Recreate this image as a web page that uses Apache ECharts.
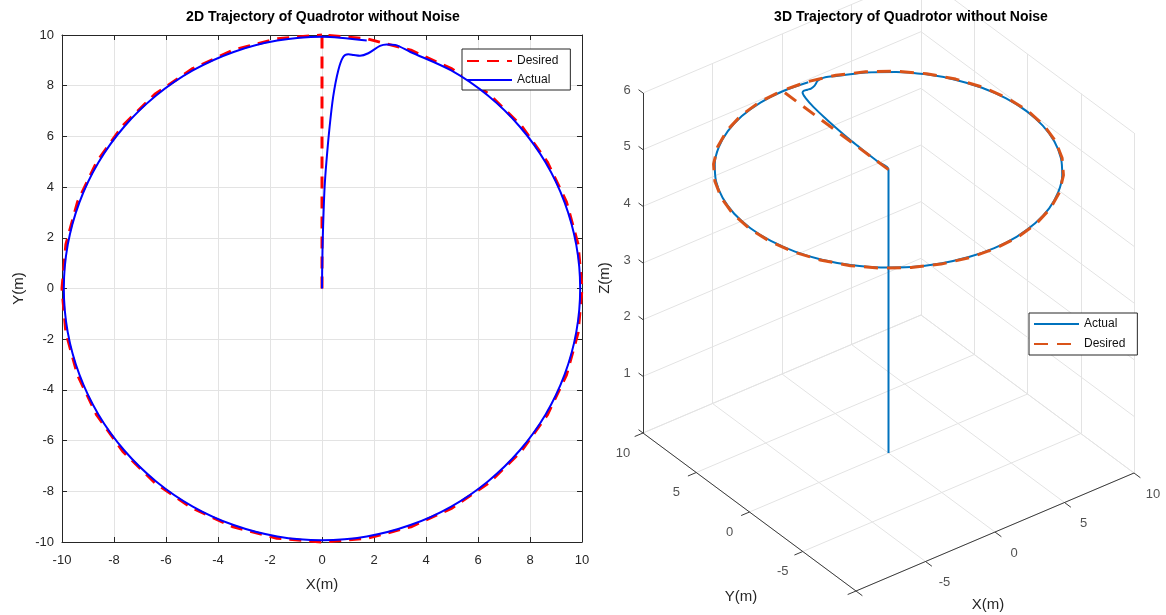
<!DOCTYPE html>
<html>
<head>
<meta charset="utf-8">
<title>Quadrotor trajectory without noise</title>
<script src="https://cdn.jsdelivr.net/npm/echarts@6/dist/echarts.min.js"></script>
<style>
  html, body { margin: 0; padding: 0; background: #fff; }
  #chart { width: 1166px; height: 615px; }
</style>
</head>
<body>
<div id="chart"></div>
<script>
// desired path (m): straight leg from the origin to (0, 10), then one clockwise lap of the r = 10 circle
const desiredX = [0, 0, 1.74, 3.42, 5.00, 6.43, 7.66, 8.66, 9.40, 9.85, 10.00, 9.85, 9.40, 8.66, 7.66, 6.43, 5.00, 3.42, 1.74, 0.00,
  -1.74, -3.42, -5.00, -6.43, -7.66, -8.66, -9.40, -9.85, -10.00, -9.85, -9.40, -8.66, -7.66, -6.43, -5.00, -3.42, -1.74, 0.00];
const desiredY = [0, 10, 9.85, 9.40, 8.66, 7.66, 6.43, 5.00, 3.42, 1.74, 0.00, -1.74, -3.42, -5.00, -6.43, -7.66, -8.66, -9.40, -9.85, -10.00,
  -9.85, -9.40, -8.66, -7.66, -6.43, -5.00, -3.42, -1.74, 0.00, 1.74, 3.42, 5.00, 6.43, 7.66, 8.66, 9.40, 9.85, 10.00];

// actual path (m): lags the leg, overshoots near (1, 9.2), joins the circle around x = 3.4
const actualX = [0, 0.01, 0.03, 0.06, 0.10, 0.17, 0.28, 0.43, 0.63, 0.82, 1.01, 1.22, 1.46, 1.78, 2.23, 2.49, 2.81, 3.40,
  4.97, 6.38, 7.61, 8.60, 9.33, 9.78, 9.93, 9.78, 9.33, 8.60, 7.61, 6.38, 4.97, 3.40, 1.72, 0.00,
  -1.72, -3.40, -4.97, -6.38, -7.61, -8.60, -9.33, -9.78, -9.93, -9.78, -9.33, -8.60, -7.61, -6.38, -4.97, -3.40, -1.72, 0.00, 1.72];
const actualY = [0, 1.00, 2.00, 3.00, 4.00, 5.00, 6.25, 7.57, 8.62, 9.14, 9.24, 9.21, 9.18, 9.28, 9.57, 9.63, 9.61, 9.33,
  8.60, 7.61, 6.38, 4.97, 3.40, 1.72, 0.00, -1.72, -3.40, -4.97, -6.38, -7.61, -8.60, -9.33, -9.78, -9.93,
  -9.78, -9.33, -8.60, -7.61, -6.38, -4.97, -3.40, -1.72, 0.00, 1.72, 3.40, 4.97, 6.38, 7.61, 8.60, 9.33, 9.78, 9.93, 9.78];

// altitude (m): the drone climbs at the origin, then flies the XY path at cruiseZ
const groundZ = 0;
const cruiseZ = 5;

// 3D axes
const ticks3dXY = [-10, -5, 0, 5, 10];
const ticks3dZ = [0, 1, 2, 3, 4, 5, 6];
const labels3dX = [-5, 0, 5, 10];
const labels3dY = [-5, 0, 5, 10];
const labels3dZ = [1, 2, 3, 4, 5, 6];

const axisColor = "#262626";
const gridColor = "#e3e3e3";
const font = "'Liberation Sans', Arial, Helvetica, sans-serif";

// MATLAB view(3) box, as pixel vectors inside the right panel (panel starts at x = 600)
const lim = { x: [-10, 10], y: [-10, 10], z: [0, 6] };
const view = { o: [256, 591], ex: [278, -118], ey: [-213, -158], ez: [0, -340] };

function project(x, y, z) {
  const a = (x - lim.x[0]) / (lim.x[1] - lim.x[0]);
  const b = (y - lim.y[0]) / (lim.y[1] - lim.y[0]);
  const c = (z - lim.z[0]) / (lim.z[1] - lim.z[0]);
  return [
    view.o[0] + a * view.ex[0] + b * view.ey[0] + c * view.ez[0],
    view.o[1] + a * view.ex[1] + b * view.ey[1] + c * view.ez[1],
  ];
}

function seg(p, q) {
  return { coords: [project(p[0], p[1], p[2]), project(q[0], q[1], q[2])] };
}

const [x0, x1] = lim.x;
const [y0, y1] = lim.y;
const [z0, z1] = lim.z;

// grid on the floor and on the two back walls
const gridSegs = [];
ticks3dXY.forEach((t) => {
  gridSegs.push(seg([t, y0, z0], [t, y1, z0]));
  gridSegs.push(seg([x0, t, z0], [x1, t, z0]));
  gridSegs.push(seg([t, y1, z0], [t, y1, z1]));
  gridSegs.push(seg([x1, t, z0], [x1, t, z1]));
});
ticks3dZ.forEach((t) => {
  gridSegs.push(seg([x0, y1, t], [x1, y1, t]));
  gridSegs.push(seg([x1, y0, t], [x1, y1, t]));
});

const tickLen = 0.6;
const axisSegs = [
  seg([x0, y0, z0], [x1, y0, z0]),
  seg([x0, y0, z0], [x0, y1, z0]),
  seg([x0, y1, z0], [x0, y1, z1]),
];
ticks3dXY.forEach((t) => {
  axisSegs.push(seg([t, y0, z0], [t, y0 - tickLen, z0]));
  axisSegs.push(seg([x0, t, z0], [x0 - tickLen, t, z0]));
});
ticks3dZ.forEach((t) => axisSegs.push(seg([x0, y1, t], [x0, y1 + tickLen * 0.7, t])));

function labelAt(p, dx, dy, text) {
  return [p[0] + dx, p[1] + dy, text];
}
const tickLabels3d = []
  .concat(labels3dX.map((t) => labelAt(project(t, y0, z0), 19, 21, t)))
  .concat(labels3dY.map((t) => labelAt(project(x0, t, z0), -20, 20, t)))
  .concat(labels3dZ.map((t) => labelAt(project(x0, y1, t), -16, -3, t)));

const desired3d = desiredX.map((x, i) => project(x, desiredY[i], cruiseZ));
const actual3d = [project(actualX[0], actualY[0], groundZ)].concat(
  actualX.map((x, i) => project(x, actualY[i], cruiseZ))
);

const chart = echarts.init(document.getElementById("chart"));

const axis2d = {
  type: "value",
  min: -10,
  max: 10,
  interval: 2,
  axisLine: { onZero: false, lineStyle: { color: axisColor, width: 1 } },
  axisTick: { show: true, inside: true, length: 5, lineStyle: { color: axisColor } },
  splitLine: { show: true, lineStyle: { color: gridColor, width: 1 } },
  axisLabel: { color: axisColor, fontSize: 13, fontFamily: font },
  nameLocation: "middle",
  nameTextStyle: { color: axisColor, fontSize: 15, fontFamily: font },
};
const mirror2d = {
  ...axis2d,
  axisLabel: { show: false },
  splitLine: { show: false },
  name: "",
};

// legend shows the line only, no marker
const legendBase = {
  orient: "vertical",
  selectedMode: false,
  backgroundColor: "#fff",
  borderColor: axisColor,
  borderWidth: 1,
  borderRadius: 0,
  itemWidth: 45,
  itemHeight: 14,
  itemStyle: { opacity: 0 },
  textStyle: { color: "#111", fontSize: 12, fontFamily: font },
};

chart.setOption({
  animation: false,
  textStyle: { fontFamily: font },
  title: [
    {
      text: "2D Trajectory of Quadrotor without Noise",
      left: 323,
      top: 10,
      padding: 0,
      textAlign: "center",
      textStyle: { fontSize: 14, fontWeight: "bold", color: "#000", fontFamily: font },
    },
    {
      text: "3D Trajectory of Quadrotor without Noise",
      left: 911,
      top: 10,
      padding: 0,
      textAlign: "center",
      textStyle: { fontSize: 14, fontWeight: "bold", color: "#000", fontFamily: font },
    },
  ],
  legend: [
    {
      ...legendBase,
      data: ["Desired", "Actual"],
      left: 462,
      top: 49,
      itemGap: 7,
      padding: [6, 12, 4, 4],
    },
    {
      ...legendBase,
      data: ["Actual 3D", "Desired 3D"],
      formatter: (name) => name.replace(" 3D", ""),
      left: 1029,
      top: 313,
      itemGap: 8,
      padding: [5, 12, 5, 4],
    },
  ],
  grid: [
    { left: 62, top: 35, width: 520, height: 507, outerBoundsMode: "none" },
    { left: 600, top: 0, width: 566, height: 615, outerBoundsMode: "none" },
  ],
  xAxis: [
    { ...axis2d, gridIndex: 0, position: "bottom", name: "X(m)", nameGap: 35, axisLabel: { ...axis2d.axisLabel, margin: 12 } },
    { ...mirror2d, gridIndex: 0, position: "top" },
    { gridIndex: 1, type: "value", min: 0, max: 566, show: false },
  ],
  yAxis: [
    { ...axis2d, gridIndex: 0, position: "left", name: "Y(m)", nameGap: 36, axisLabel: { ...axis2d.axisLabel, margin: 8 } },
    { ...mirror2d, gridIndex: 0, position: "right" },
    { gridIndex: 1, type: "value", min: 0, max: 615, inverse: true, show: false },
  ],
  graphic: [
    {
      type: "text",
      x: 988,
      y: 605,
      style: { text: "X(m)", fill: axisColor, font: "15px " + font, textAlign: "center", textVerticalAlign: "middle" },
    },
    {
      type: "text",
      x: 741,
      y: 597,
      style: { text: "Y(m)", fill: axisColor, font: "15px " + font, textAlign: "center", textVerticalAlign: "middle" },
    },
    {
      type: "text",
      x: 605,
      y: 278,
      rotation: Math.PI / 2,
      style: { text: "Z(m)", fill: axisColor, font: "15px " + font, textAlign: "center", textVerticalAlign: "middle" },
    },
  ],
  series: [
    {
      name: "Desired",
      type: "line",
      xAxisIndex: 0,
      yAxisIndex: 0,
      data: desiredX.map((x, i) => [x, desiredY[i]]),
      symbol: "none",
      clip: false,
      itemStyle: { color: "#ff0000" },
      lineStyle: { color: "#ff0000", width: 3, type: [12, 8] },
      z: 3,
    },
    {
      name: "Actual",
      type: "line",
      xAxisIndex: 0,
      yAxisIndex: 0,
      data: actualX.map((x, i) => [x, actualY[i]]),
      symbol: "none",
      smooth: 0.3,
      clip: false,
      itemStyle: { color: "#0000ff" },
      lineStyle: { color: "#0000ff", width: 2 },
      z: 4,
    },
    {
      type: "lines",
      coordinateSystem: "cartesian2d",
      xAxisIndex: 2,
      yAxisIndex: 2,
      data: gridSegs,
      silent: true,
      lineStyle: { color: gridColor, width: 1, opacity: 1, curveness: 0 },
      z: 1,
    },
    {
      type: "lines",
      coordinateSystem: "cartesian2d",
      xAxisIndex: 2,
      yAxisIndex: 2,
      data: axisSegs,
      silent: true,
      lineStyle: { color: "#3a3a3a", width: 1, opacity: 1, curveness: 0 },
      z: 2,
    },
    {
      name: "Actual 3D",
      type: "line",
      xAxisIndex: 2,
      yAxisIndex: 2,
      data: actual3d,
      symbol: "none",
      smooth: 0.3,
      itemStyle: { color: "#0072bd" },
      lineStyle: { color: "#0072bd", width: 2 },
      z: 3,
    },
    {
      name: "Desired 3D",
      type: "line",
      xAxisIndex: 2,
      yAxisIndex: 2,
      data: desired3d,
      symbol: "none",
      itemStyle: { color: "#d95319" },
      lineStyle: { color: "#d95319", width: 3, type: [14, 9] },
      z: 4,
    },
    {
      type: "scatter",
      xAxisIndex: 2,
      yAxisIndex: 2,
      data: tickLabels3d,
      symbolSize: 0,
      silent: true,
      label: {
        show: true,
        position: "inside",
        formatter: (p) => String(p.value[2]),
        color: axisColor,
        fontSize: 13,
        fontFamily: font,
      },
      z: 5,
    },
  ],
});
</script>
</body>
</html>
